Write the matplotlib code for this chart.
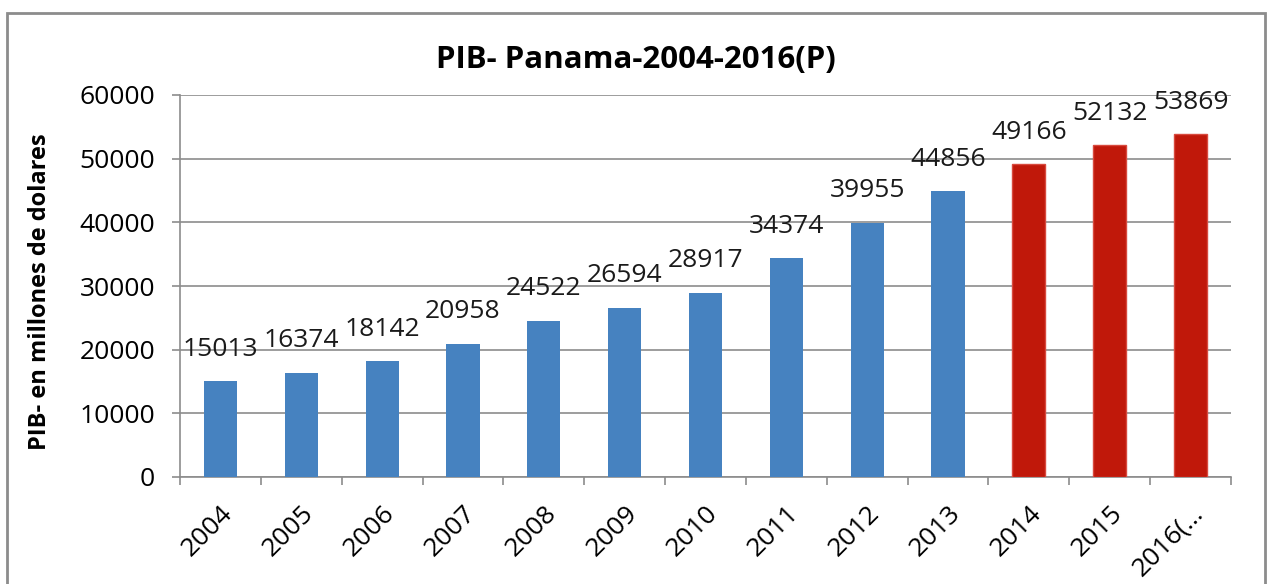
import matplotlib
matplotlib.use("Agg")
import matplotlib.pyplot as plt
from matplotlib.patches import Rectangle

categories = ["2004", "2005", "2006", "2007", "2008", "2009", "2010",
              "2011", "2012", "2013", "2014", "2015", "2016(…"]
values = [15013, 16374, 18142, 20958, 24522, 26594, 28917,
          34374, 39955, 44856, 49166, 52132, 53869]
projected = [False] * 10 + [True] * 3
title = "PIB- Panama-2004-2016(P)"
ylabel = "PIB- en millones de dolares"

plt.rcParams['font.family'] = ['Open Sans', 'DejaVu Sans']

fig = plt.figure(figsize=(12.67, 5.84), dpi=100)
fig.patch.set_facecolor("white")
fig.patches.append(Rectangle((7 / 1267, -0.1), (1265 - 7) / 1267, 1.1 - 13 / 584,
                             transform=fig.transFigure, fill=False,
                             edgecolor="#8c8c8c", linewidth=2))

ax = fig.add_axes([180 / 1267, 1 - 477 / 584, (1231 - 180) / 1267, (477 - 95) / 584])
blue = "#4682C0"
red = "#C0180A"
colors = [red if p else blue for p in projected]
x = list(range(len(categories)))
bars = ax.bar(x, values, width=0.41, color=colors, zorder=3)
for b, p in zip(bars, projected):
    if p:
        b.set_edgecolor("#d84a3e")
        b.set_linewidth(1)

for xi, v in zip(x, values):
    ax.annotate(str(v), (xi, v), xytext=(0, 14), textcoords="offset points",
                ha="center", va="bottom", fontsize=19, color="#1a1a1a")

ax.set_xlim(-0.5, len(categories) - 0.5)
ax.set_ylim(0, 60000)
ax.set_yticks(range(0, 60001, 10000))
ax.yaxis.grid(True, color="#8c8c8c", linewidth=1.2, zorder=0)
ax.set_axisbelow(True)

ax.set_xticks([i - 0.5 for i in range(len(categories) + 1)], minor=False)
ax.set_xticklabels([])
ax.set_xticks(x, minor=True)
ax.set_xticklabels(categories, minor=True, rotation=45, ha="right",
                   rotation_mode="anchor", fontsize=19)
ax.tick_params(axis="x", which="major", length=6, color="#8c8c8c", width=1.2)
ax.tick_params(axis="x", which="minor", length=0, pad=17)
ax.tick_params(axis="y", length=6, color="#8c8c8c", width=1.2, labelsize=19, pad=12)

for s in ["top", "right"]:
    ax.spines[s].set_visible(False)
for s in ["left", "bottom"]:
    ax.spines[s].set_color("#8c8c8c")
    ax.spines[s].set_linewidth(1.2)

fig.text(40 / 1267, 1 - 292 / 584, ylabel, rotation=90, ha="center", va="center",
         fontsize=17, fontweight="bold")
fig.text(636 / 1267, 1 - 60 / 584, title, ha="center", va="center",
         fontsize=22.5, fontweight="bold")

fig.savefig("out.png", dpi=100)
